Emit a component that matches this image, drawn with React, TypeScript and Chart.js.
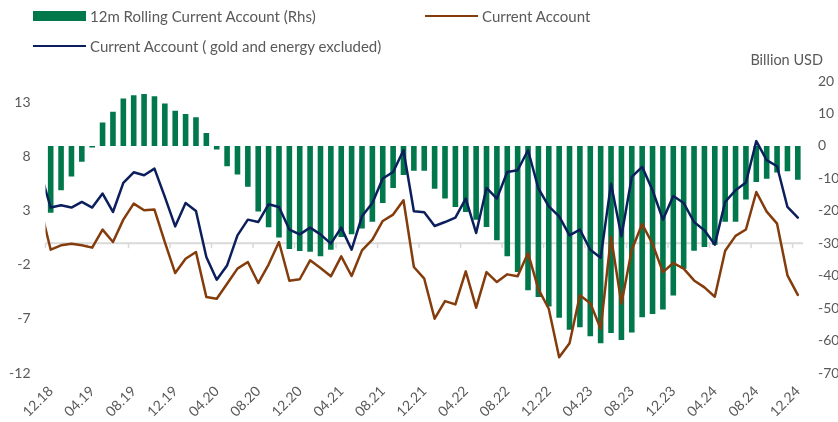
import React, { useEffect, useRef } from "react";
import { Chart, registerables } from "chart.js";

Chart.register(...registerables);

// First entry (11.18) only feeds the line stubs entering the plot at the left edge; it is outside the axis range.
const months = [
  "11.18", "12.18",
  "01.19", "02.19", "03.19", "04.19", "05.19", "06.19", "07.19", "08.19", "09.19", "10.19", "11.19", "12.19",
  "01.20", "02.20", "03.20", "04.20", "05.20", "06.20", "07.20", "08.20", "09.20", "10.20", "11.20", "12.20",
  "01.21", "02.21", "03.21", "04.21", "05.21", "06.21", "07.21", "08.21", "09.21", "10.21", "11.21", "12.21",
  "01.22", "02.22", "03.22", "04.22", "05.22", "06.22", "07.22", "08.22", "09.22", "10.22", "11.22", "12.22",
  "01.23", "02.23", "03.23", "04.23", "05.23", "06.23", "07.23", "08.23", "09.23", "10.23", "11.23", "12.23",
  "01.24", "02.24", "03.24", "04.24", "05.24", "06.24", "07.24", "08.24", "09.24", "10.24", "11.24", "12.24",
];

// 12m rolling current account, billion USD (right axis)
const rollingCA = [
  null,
  -20.6, -13.7, -9.4, -4.9, -0.5, 7.2, 10.5, 14.6, 15.6, 16.0, 15.3, 13.1, 10.8,
  9.8, 8.8, 4.0, -1.1, -6.3, -8.8, -12.6, -20.2, -25.1, -28.2, -31.8, -32.4,
  -32.6, -34.0, -32.0, -28.1, -27.2, -25.5, -23.4, -17.6, -13.0, -9.0, -7.7, -7.7,
  -13.2, -16.2, -18.8, -20.4, -22.8, -25.0, -29.1, -34.0, -38.9, -44.5, -46.6, -49.5,
  -53.0, -56.7, -55.9, -58.7, -60.8, -57.7, -59.8, -57.5, -52.8, -51.8, -50.4, -46.1,
  -37.9, -32.3, -31.2, -30.5, -23.4, -23.4, -16.5, -11.1, -10.1, -8.2, -7.8, -10.4,
];

// Monthly current account (left axis)
const currentAccount = [
  3.3,
  -0.6, -0.19, -0.04, -0.19, -0.41, 1.26, 0.11, 2.18, 3.66, 3.05, 3.11, 0.11, -2.76,
  -1.43, -0.81, -4.98, -5.13, -3.74, -2.35, -1.74, -3.68, -1.97, 0.11, -3.47, -3.33,
  -1.58, -2.3, -3.06, -1.21, -3.03, -0.66, 0.33, 2.06, 2.65, 3.97, -2.2, -3.28,
  -6.98, -5.35, -5.66, -2.6, -5.96, -2.67, -3.59, -2.88, -3.06, -0.91, -4.25, -6.06,
  -10.54, -9.24, -4.82, -5.54, -7.91, 0.6, -5.59, -0.6, 1.78, -0.07, -2.67, -1.83,
  -2.35, -3.44, -4.08, -4.95, -0.69, 0.68, 1.27, 4.74, 2.92, 1.81, -2.97, -4.78,
];

// Current account excluding gold and energy (left axis)
const exGoldEnergy = [
  6.6,
  3.3, 3.51, 3.3, 3.82, 3.3, 4.59, 2.89, 5.58, 6.56, 6.29, 6.9, 4.28, 1.56,
  3.72, 2.98, -1.28, -3.37, -2.05, 0.73, 2.18, 1.96, 3.6, 3.35, 1.26, 0.82,
  1.44, 0.82, -0.04, 1.44, -0.6, 2.49, 3.72, 5.98, 6.59, 8.6, 2.95, 2.86,
  1.59, 1.96, 2.37, 4.13, 0.95, 5.11, 4.13, 6.59, 6.75, 8.6, 5.06, 3.4,
  2.49, 0.73, 1.26, -0.6, -1.34, 5.51, 0.64, 6.13, 7.06, 4.9, 2.18, 4.37,
  3.72, 1.96, 1.19, -0.13, 3.82, 4.9, 5.61, 9.44, 7.68, 7.12, 3.35, 2.37,
];

const leftTicks = [-12, -7, -2, 3, 8, 13];

const GREEN = "#00784B";
const BROWN = "#843C0C";
const NAVY = "#0B1F5C";
const TEXT = "#595959";
const FONT = "Lato, 'Open Sans', sans-serif";

const zeroLinePlugin = {
  id: "zeroLine",
  beforeDatasetsDraw(chart: any) {
    const { ctx, chartArea, scales } = chart;
    const y = scales.yL.getPixelForValue(0);
    const xs = scales.x;
    const step = xs.getPixelForValue(2) - xs.getPixelForValue(1);
    ctx.save();
    ctx.strokeStyle = "#D9D9D9";
    ctx.lineWidth = 2;
    ctx.beginPath();
    ctx.moveTo(chartArea.left, y);
    ctx.lineTo(chartArea.right, y);
    ctx.stroke();
    ctx.lineWidth = 1.5;
    ctx.beginPath();
    for (let v = 1; v < months.length; v += 4) {
      const px = xs.getPixelForValue(v) - step / 2;
      ctx.moveTo(px, y);
      ctx.lineTo(px, y + 5);
    }
    ctx.stroke();
    ctx.restore();
  },
};

export default function App() {
  const ref = useRef<HTMLCanvasElement>(null);

  useEffect(() => {
    if (!ref.current) return;
    const chart = new Chart(ref.current, {
      type: "bar",
      data: {
        labels: months,
        datasets: [
          {
            type: "bar",
            label: "12m Rolling Current Account (Rhs)",
            data: rollingCA as any,
            yAxisID: "yR",
            backgroundColor: GREEN,
            barPercentage: 0.54,
            categoryPercentage: 1,
            order: 3,
          },
          {
            type: "line",
            label: "Current Account",
            data: currentAccount,
            yAxisID: "yL",
            borderColor: BROWN,
            backgroundColor: BROWN,
            borderWidth: 2.5,
            pointRadius: 0,
            tension: 0,
            borderJoinStyle: "round",
            borderCapStyle: "round",
            clip: 0,
            order: 2,
          },
          {
            type: "line",
            label: "Current Account ( gold and energy excluded)",
            data: exGoldEnergy,
            yAxisID: "yL",
            borderColor: NAVY,
            backgroundColor: NAVY,
            borderWidth: 2.5,
            pointRadius: 0,
            tension: 0,
            borderJoinStyle: "round",
            borderCapStyle: "round",
            clip: 0,
            order: 1,
          },
        ] as any,
      },
      options: {
        animation: false,
        responsive: true,
        maintainAspectRatio: false,
        layout: { padding: { top: 81, left: 0, right: 0, bottom: 0 } },
        plugins: {
          legend: { display: false },
          tooltip: { enabled: false },
        },
        scales: {
          x: {
            type: "category",
            min: 1,
            offset: true,
            grid: { display: false },
            border: { display: false },
            ticks: {
              autoSkip: false,
              maxRotation: 45,
              minRotation: 45,
              color: TEXT,
              font: { family: FONT, size: 14 },
              padding: 2,
              callback: function (this: any, value: any) {
                const v = Number(value);
                return (v - 1) % 4 === 0 ? months[v] : "";
              },
            },
            afterFit: (s: any) => {
              s.height = 49;
            },
          },
          yL: {
            type: "linear",
            position: "left",
            min: -12,
            max: 15,
            grid: { display: false },
            border: { display: false },
            afterBuildTicks: (s: any) => {
              s.ticks = leftTicks.map((v) => ({ value: v }));
            },
            ticks: {
              color: TEXT,
              font: { family: FONT, size: 14 },
              padding: 7,
            },
            afterFit: (s: any) => {
              s.width = 45.5;
            },
          },
          yR: {
            type: "linear",
            position: "right",
            min: -70,
            max: 20,
            grid: { display: false },
            border: { display: false },
            ticks: {
              stepSize: 10,
              color: TEXT,
              font: { family: FONT, size: 14 },
              padding: 7,
            },
            afterFit: (s: any) => {
              s.width = 35;
            },
          },
        },
      },
      plugins: [zeroLinePlugin],
    });
    return () => chart.destroy();
  }, []);

  const legendItem = (left: number, top: number, marker: React.ReactNode, text: string) => (
    <div
      style={{
        position: "absolute",
        left,
        top,
        height: 20,
        display: "flex",
        alignItems: "center",
        fontFamily: FONT,
        fontSize: 15,
        color: TEXT,
        whiteSpace: "nowrap",
      }}
    >
      {marker}
      <span style={{ marginLeft: 4 }}>{text}</span>
    </div>
  );

  return (
    <div style={{ position: "fixed", left: 0, top: 0, width: 838, height: 422, background: "#fff" }}>
      <canvas ref={ref} />
      {legendItem(33, 6, <span style={{ display: "inline-block", width: 53, height: 10, background: GREEN }} />, "12m Rolling Current Account (Rhs)")}
      {legendItem(425, 6, <span style={{ display: "inline-block", width: 53, height: 2.5, background: BROWN }} />, "Current Account")}
      {legendItem(33, 36, <span style={{ display: "inline-block", width: 53, height: 2.5, background: NAVY }} />, "Current Account ( gold and energy excluded)")}
      <div
        style={{
          position: "absolute",
          right: 15,
          top: 50,
          height: 20,
          lineHeight: "20px",
          fontFamily: FONT,
          fontSize: 14.5,
          color: TEXT,
        }}
      >
        Billion USD
      </div>
    </div>
  );
}
